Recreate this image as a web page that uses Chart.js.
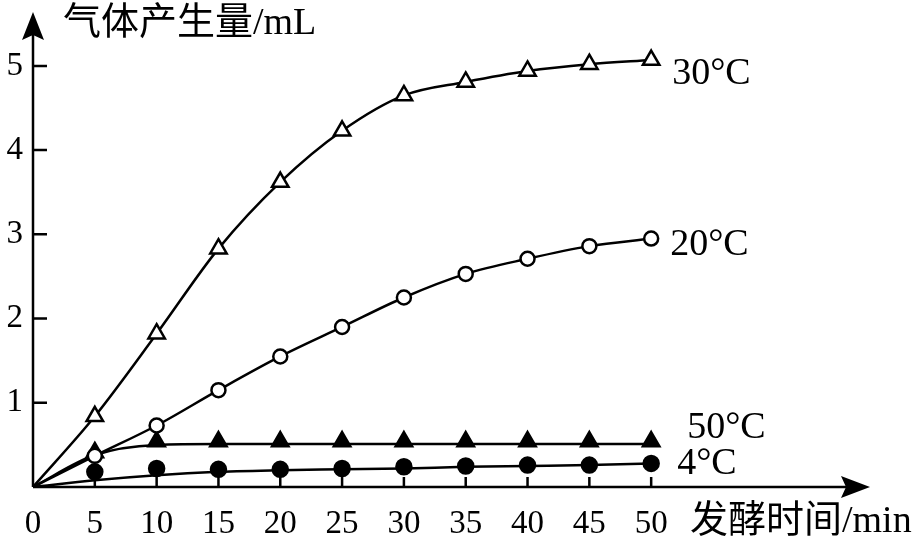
<!DOCTYPE html>
<html>
<head>
<meta charset="utf-8">
<script src="https://cdn.jsdelivr.net/npm/chart.js@4.4.1/dist/chart.umd.min.js"></script>
<style>
  html, body { margin: 0; padding: 0; background: #fff; }
  #wrap { width: 924px; height: 543px; }
</style>
</head>
<body>
<div id="wrap"><canvas id="myChart" width="924" height="543"></canvas></div>
<script>
// tick labels
var X_TICKS = [0, 5, 10, 15, 20, 25, 30, 35, 40, 45, 50];
var Y_TICKS = [1, 2, 3, 4, 5];

// sampling times (min)
var TIMES = [5, 10, 15, 20, 25, 30, 35, 40, 45, 50];
var CURVE_TIMES = [0, 5, 10, 15, 20, 25, 30, 35, 40, 45, 50];

// measured points (mL)
var gas30 = [0.84, 1.82, 2.83, 3.62, 4.23, 4.65, 4.81, 4.94, 5.02, 5.07];
var gas20 = [0.37, 0.73, 1.15, 1.55, 1.90, 2.25, 2.53, 2.71, 2.86, 2.95];
var gas50 = [0.41, 0.54, 0.54, 0.54, 0.54, 0.54, 0.54, 0.54, 0.54, 0.54];
var gas4  = [0.18, 0.22, 0.21, 0.21, 0.22, 0.24, 0.25, 0.26, 0.26, 0.28];

// fitted curves, from the origin
var curve30 = [0].concat(gas30);
var curve20 = [0].concat(gas20);
var curve50 = [0, 0.38, 0.50, 0.51, 0.51, 0.51, 0.51, 0.51, 0.51, 0.51, 0.51];
var curve4  = [0, 0.08, 0.14, 0.18, 0.20, 0.21, 0.22, 0.24, 0.25, 0.26, 0.28];

var seriesNames = ['30°C', '20°C', '50°C', '4°C'];

var SERIF = '"Liberation Serif", "Times New Roman", "Noto Sans CJK SC", serif';

function pts(xs, ys) {
    return xs.map(function (x, i) { return { x: x, y: ys[i] }; });
}

function curve(ys) {
    return {
        data: pts(CURVE_TIMES, ys),
        borderColor: '#000',
        borderWidth: 2.5,
        pointRadius: 0,
        fill: false,
        cubicInterpolationMode: 'monotone',
        order: 10
    };
}

function markers(ys, style, fillColor, radius, order) {
    return {
        data: pts(TIMES, ys),
        showLine: false,
        pointStyle: style,
        pointRadius: radius,
        pointBackgroundColor: fillColor,
        pointBorderColor: '#000',
        pointBorderWidth: 2.5,
        order: order
    };
}

// axes with arrows, tick marks and the text labels
var drawing = {
    id: 'drawing',
    beforeDatasetsDraw: function (chart) {
        var ctx = chart.ctx;
        var xs = chart.scales.x, ys = chart.scales.y;
        var ox = xs.getPixelForValue(0), oy = ys.getPixelForValue(0);
        var area = chart.chartArea;
        ctx.save();
        ctx.strokeStyle = '#000';
        ctx.fillStyle = '#000';
        ctx.lineWidth = 2.5;

        ctx.beginPath();
        ctx.moveTo(ox, oy);
        ctx.lineTo(ox, area.top + 20);
        ctx.moveTo(ox, oy);
        ctx.lineTo(area.right - 20, oy);
        Y_TICKS.forEach(function (v) {
            var py = ys.getPixelForValue(v);
            ctx.moveTo(ox, py);
            ctx.lineTo(ox + 14, py);
        });
        X_TICKS.slice(1).forEach(function (v) {
            var px = xs.getPixelForValue(v);
            ctx.moveTo(px, oy);
            ctx.lineTo(px, oy - 10);
        });
        ctx.stroke();

        // arrow heads
        ctx.beginPath();
        ctx.moveTo(ox, area.top);
        ctx.lineTo(ox - 11, area.top + 28);
        ctx.lineTo(ox, area.top + 23);
        ctx.lineTo(ox + 11, area.top + 28);
        ctx.closePath();
        ctx.fill();
        ctx.beginPath();
        ctx.moveTo(area.right, oy);
        ctx.lineTo(area.right - 29, oy - 11);
        ctx.lineTo(area.right - 24, oy);
        ctx.lineTo(area.right - 29, oy + 11);
        ctx.closePath();
        ctx.fill();
        ctx.restore();
    },
    afterDraw: function (chart) {
        var ctx = chart.ctx;
        var xs = chart.scales.x, ys = chart.scales.y;
        ctx.save();
        ctx.fillStyle = '#000';
        ctx.textBaseline = 'middle';
        ctx.textAlign = 'left';

        // axis titles
        ctx.font = '38px ' + SERIF;
        ctx.fillText('气体产生量/mL', 63, 24);
        ctx.fillText('发酵时间/min', 690, 522);

        // series names next to the last point
        var lastVals = [gas30[9], gas20[9], curve50[10], curve4[10]];
        var offs = [[21, 14], [19, 6], [36, -16], [26, 1]];
        seriesNames.forEach(function (name, i) {
            var px = xs.getPixelForValue(50) + offs[i][0];
            var py = ys.getPixelForValue(lastVals[i]) + offs[i][1];
            ctx.fillText(name, px, py);
        });
        ctx.restore();
    }
};

var config = {
    type: 'line',
    data: {
        datasets: [
            curve(curve30),
            curve(curve20),
            curve(curve50),
            curve(curve4),
            markers(gas50, 'triangle', '#000', 9.5, 3),
            markers(gas4, 'circle', '#000', 7.5, 3),
            markers(gas20, 'circle', '#fff', 7, 1),
            markers(gas30, 'triangle', '#fff', 9.5, 1)
        ]
    },
    options: {
        responsive: false,
        animation: false,
        devicePixelRatio: 1,
        layout: { padding: { top: 10, right: 54, left: 0, bottom: 0 } },
        plugins: {
            legend: { display: false },
            tooltip: { enabled: false }
        },
        scales: {
            x: {
                type: 'linear',
                min: 0,
                max: 67.7,
                grid: { display: false, drawTicks: false },
                border: { display: false },
                afterBuildTicks: function (scale) {
                    scale.ticks = X_TICKS.map(function (v) { return { value: v }; });
                },
                afterFit: function (scale) {
                    scale.height = 56;
                    scale.paddingLeft = 0;
                    scale.paddingRight = 0;
                },
                ticks: {
                    color: '#000',
                    padding: 18,
                    maxRotation: 0,
                    font: { family: SERIF, size: 33 }
                }
            },
            y: {
                min: 0,
                max: 5.64,
                grid: { display: false, drawTicks: false },
                border: { display: false },
                afterBuildTicks: function (scale) {
                    scale.ticks = Y_TICKS.map(function (v) { return { value: v }; });
                },
                afterFit: function (scale) {
                    scale.width = 33;
                    scale.paddingTop = 0;
                    scale.paddingBottom = 0;
                },
                ticks: {
                    color: '#000',
                    padding: 10,
                    font: { family: SERIF, size: 33 }
                }
            }
        }
    },
    plugins: [drawing]
};

var lineGraph = new Chart(document.getElementById('myChart'), config);
</script>
</body>
</html>
